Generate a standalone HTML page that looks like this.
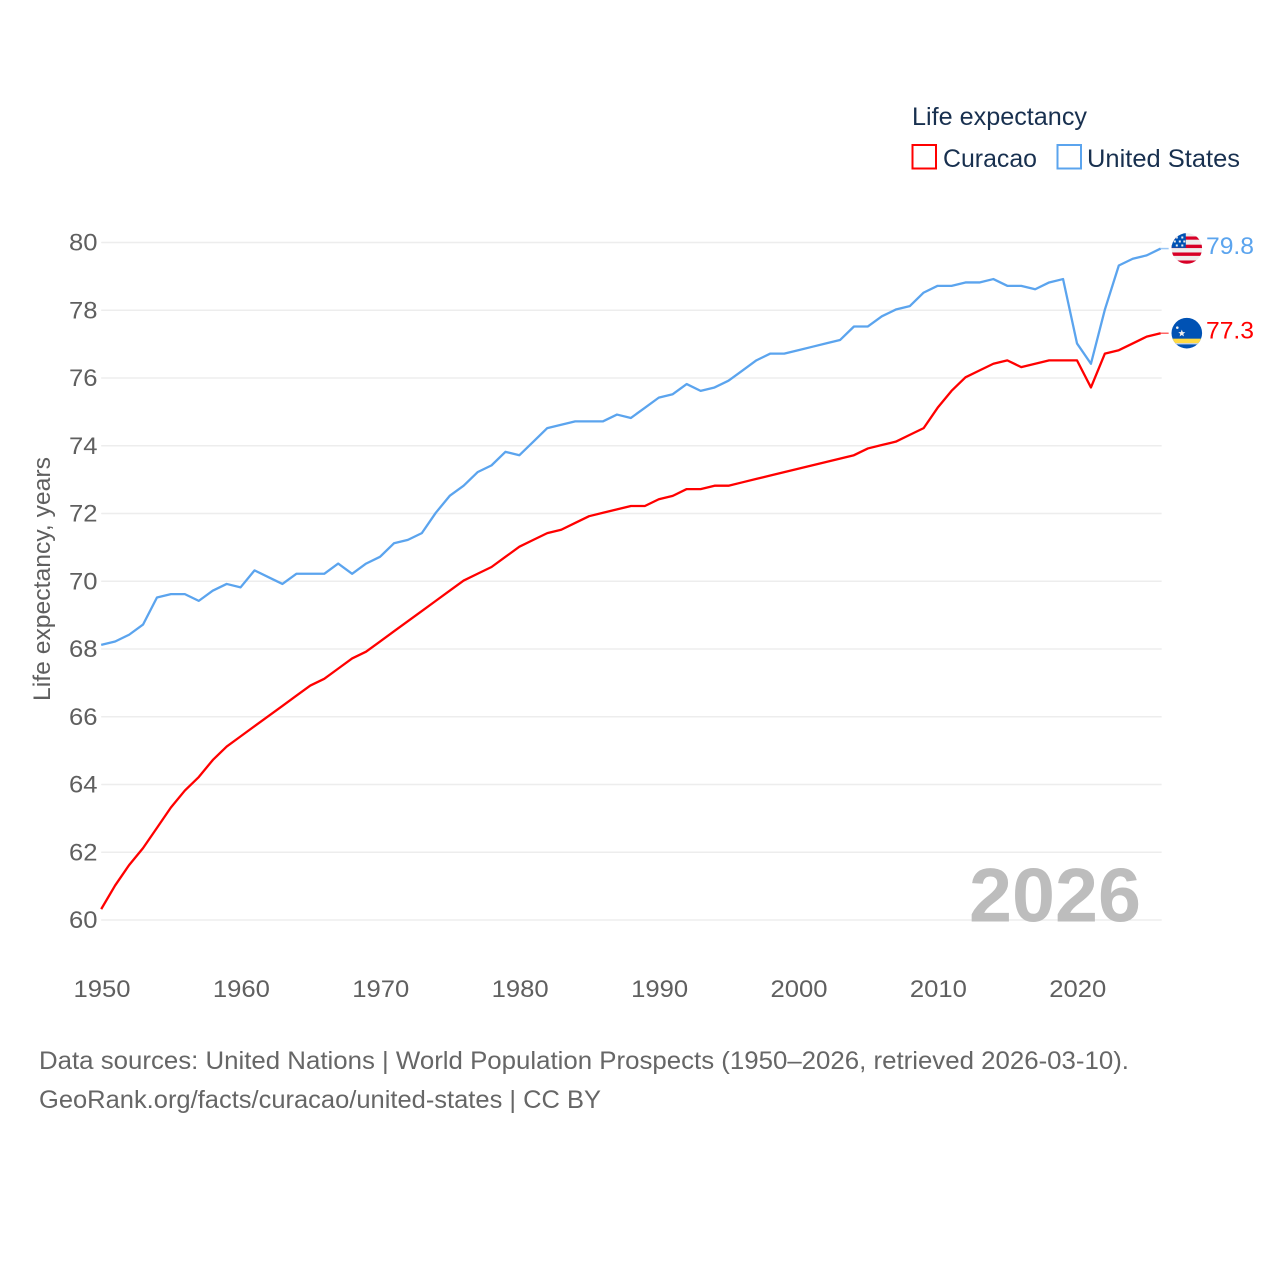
<!DOCTYPE html>
<html lang="en">
<head>
<meta charset="utf-8">
<title>Life expectancy: Curacao and United States</title>
<style>
html,body{margin:0;padding:0;background:#fff;width:1280px;height:1280px;overflow:hidden}
svg{display:block}
text{font-family:"Liberation Sans",sans-serif}
</style>
</head>
<body>
<svg id="chart" xmlns="http://www.w3.org/2000/svg" width="1280" height="1280" viewBox="0 0 1280 1280">
  <defs>
    <clipPath id="flag-us-clip"><circle cx="0" cy="0" r="15.3"/></clipPath>
    <clipPath id="flag-cw-clip"><circle cx="0" cy="0" r="15.3"/></clipPath>
  </defs>
  <g id="grid"></g>
  <g id="y-ticks"></g>
  <g id="x-ticks"></g>
  <text transform="translate(50,701) rotate(-90)" font-size="24" fill="#5f5f5f" textLength="244" lengthAdjust="spacingAndGlyphs">Life expectancy, years</text>
  <text x="969" y="921.5" font-size="76" font-weight="700" fill="#bdbdbd" textLength="172" lengthAdjust="spacingAndGlyphs">2026</text>
  <g id="series" transform="translate(0,-0.7)"></g>

  <g id="flag-us">
    <g clip-path="url(#flag-us-clip)">
      <rect x="-16" y="-16" width="32" height="32" fill="#eeeeee"/>
      <rect x="-16" y="-12" width="32" height="3.2" fill="#d80027"/>
      <rect x="-16" y="-3.8" width="32" height="3.4" fill="#d80027"/>
      <rect x="-16" y="4" width="32" height="3.4" fill="#d80027"/>
      <rect x="-16" y="12" width="32" height="4" fill="#d80027"/>
      <rect x="-16" y="-16" width="15" height="15.4" fill="#0052b4"/>
      <rect x="-11" y="-12" width="2" height="2" fill="#eeeeee"/>
      <rect x="-5.5" y="-12" width="2" height="2" fill="#eeeeee"/>
      <rect x="-13" y="-8" width="2" height="2" fill="#eeeeee"/>
      <rect x="-8" y="-8" width="2" height="2" fill="#eeeeee"/>
      <rect x="-3.5" y="-8" width="2" height="2" fill="#eeeeee"/>
      <rect x="-11" y="-4" width="2" height="2" fill="#eeeeee"/>
      <rect x="-5.5" y="-4" width="2" height="2" fill="#eeeeee"/>
    </g>
  </g>
  <g id="flag-cw">
    <g clip-path="url(#flag-cw-clip)">
      <rect x="-16" y="-16" width="32" height="32" fill="#0052b4"/>
      <rect x="-16" y="5.5" width="32" height="4.5" fill="#ffda44"/>
      <rect x="-16" y="10" width="32" height="1.2" fill="#dfe3ea"/>
      <polygon points="-5,-3.5 -4,-1 -1.5,-1 -3.5,0.7 -2.8,3.2 -5,1.8 -7.2,3.2 -6.5,0.7 -8.5,-1 -6,-1" fill="#eeeeee"/>
      <circle cx="-9.5" cy="-5.5" r="1.3" fill="#eeeeee"/>
    </g>
  </g>
  <g id="end-labels"></g>

  <g>
    <text x="912" y="125" font-size="25" fill="#18304f" textLength="175" lengthAdjust="spacingAndGlyphs">Life expectancy</text>
    <g>
      <rect x="912.5" y="145" width="23.5" height="23.5" fill="none" stroke="#ff0000" stroke-width="2"/>
      <text x="943" y="167" font-size="25" fill="#18304f" textLength="94" lengthAdjust="spacingAndGlyphs">Curacao</text>
    </g>
    <g>
      <rect x="1057.5" y="145" width="23.5" height="23.5" fill="none" stroke="#5ba4ee" stroke-width="2"/>
      <text x="1087" y="167" font-size="25" fill="#18304f" textLength="153" lengthAdjust="spacingAndGlyphs">United States</text>
    </g>
  </g>

  <text x="39" y="1069" font-size="25" fill="#666666" textLength="1090" lengthAdjust="spacingAndGlyphs">Data sources: United Nations | World Population Prospects (1950–2026, retrieved 2026-03-10).</text>
  <text x="39" y="1108" font-size="25" fill="#666666" textLength="562" lengthAdjust="spacingAndGlyphs">GeoRank.org/facts/curacao/united-states | CC BY</text>
</svg>
<script>
const years = [1950,1951,1952,1953,1954,1955,1956,1957,1958,1959,1960,1961,1962,1963,1964,1965,1966,1967,1968,1969,1970,1971,1972,1973,1974,1975,1976,1977,1978,1979,1980,1981,1982,1983,1984,1985,1986,1987,1988,1989,1990,1991,1992,1993,1994,1995,1996,1997,1998,1999,2000,2001,2002,2003,2004,2005,2006,2007,2008,2009,2010,2011,2012,2013,2014,2015,2016,2017,2018,2019,2020,2021,2022,2023,2024,2025,2026];
const curacao = [60.3,61.0,61.6,62.1,62.7,63.3,63.8,64.2,64.7,65.1,65.4,65.7,66.0,66.3,66.6,66.9,67.1,67.4,67.7,67.9,68.2,68.5,68.8,69.1,69.4,69.7,70.0,70.2,70.4,70.7,71.0,71.2,71.4,71.5,71.7,71.9,72.0,72.1,72.2,72.2,72.4,72.5,72.7,72.7,72.8,72.8,72.9,73.0,73.1,73.2,73.3,73.4,73.5,73.6,73.7,73.9,74.0,74.1,74.3,74.5,75.1,75.6,76.0,76.2,76.4,76.5,76.3,76.4,76.5,76.5,76.5,75.7,76.7,76.8,77.0,77.2,77.3];
const unitedStates = [68.1,68.2,68.4,68.7,69.5,69.6,69.6,69.4,69.7,69.9,69.8,70.3,70.1,69.9,70.2,70.2,70.2,70.5,70.2,70.5,70.7,71.1,71.2,71.4,72.0,72.5,72.8,73.2,73.4,73.8,73.7,74.1,74.5,74.6,74.7,74.7,74.7,74.9,74.8,75.1,75.4,75.5,75.8,75.6,75.7,75.9,76.2,76.5,76.7,76.7,76.8,76.9,77.0,77.1,77.5,77.5,77.8,78.0,78.1,78.5,78.7,78.7,78.8,78.8,78.9,78.7,78.7,78.6,78.8,78.9,77.0,76.4,78.0,79.3,79.5,79.6,79.8];
const yTickLabels = [60,62,64,66,68,70,72,74,76,78,80];
const xTickLabels = [1950,1960,1970,1980,1990,2000,2010,2020];

const NS = 'http://www.w3.org/2000/svg';
const xScale = year => 101.2 + (year - 1950) * 13.94;
const yScale = value => 920 - (value - 60) * 33.875;
const make = (tag, parent) => parent.appendChild(document.createElementNS(NS, tag));
const DIGIT_WIDTH = 14.25;

const gridGroup = document.getElementById('grid');
const yTickGroup = document.getElementById('y-ticks');
const xTickGroup = document.getElementById('x-ticks');
const seriesGroup = document.getElementById('series');
const endLabelGroup = document.getElementById('end-labels');

const xEnd = xScale(years[years.length - 1]);

yTickLabels.forEach(tick => {
  const line = make('line', gridGroup);
  
  
  line.setAttribute('x1', xScale(1950));
  line.setAttribute('x2', xEnd + 1);
  line.setAttribute('y1', yScale(tick));
  line.setAttribute('y2', yScale(tick));
  line.setAttribute('stroke', '#ededed');
  line.setAttribute('stroke-width', '1.5');

  const label = make('text', yTickGroup);
  
  
  label.setAttribute('x', 69);
  label.setAttribute('y', yScale(tick) + 8);
  label.setAttribute('font-size', '24');
  label.setAttribute('fill', '#5f5f5f');
  label.setAttribute('textLength', String(tick).length * DIGIT_WIDTH);
  label.setAttribute('lengthAdjust', 'spacingAndGlyphs');
  label.textContent = tick;
});

xTickLabels.forEach(tick => {
  const label = make('text', xTickGroup);
  
  
  label.setAttribute('x', xScale(tick) - 27.7);
  label.setAttribute('y', 997);
  label.setAttribute('font-size', '24');
  label.setAttribute('fill', '#5f5f5f');
  label.setAttribute('textLength', String(tick).length * DIGIT_WIDTH);
  label.setAttribute('lengthAdjust', 'spacingAndGlyphs');
  label.textContent = tick;
});

function drawSeries(values, color, key) {
  const d = values.map((v, i) => (i ? 'L' : 'M') + xScale(years[i]).toFixed(2) + ' ' + yScale(v).toFixed(2)).join(' ');
  const path = make('path', seriesGroup);
  
  
  path.setAttribute('d', d);
  path.setAttribute('fill', 'none');
  path.setAttribute('stroke', color);
  path.setAttribute('stroke-width', '2.3');
  path.setAttribute('stroke-linejoin', 'round');

  const last = values[values.length - 1];
  const connector = make('line', seriesGroup);
  
  
  connector.setAttribute('x1', xEnd);
  connector.setAttribute('x2', xEnd + 8);
  connector.setAttribute('y1', yScale(last));
  connector.setAttribute('y2', yScale(last));
  connector.setAttribute('stroke', color);
  connector.setAttribute('stroke-width', '1.5');
  connector.setAttribute('stroke-opacity', '0.6');

  const label = make('text', endLabelGroup);
  
  
  label.setAttribute('x', 1206);
  label.setAttribute('y', yScale(last) + 4.5);
  label.setAttribute('font-size', '24');
  label.setAttribute('fill', color);
  label.setAttribute('textLength', '48');
  label.setAttribute('lengthAdjust', 'spacingAndGlyphs');
  label.textContent = last.toFixed(1);

  return last;
}

const lastUS = drawSeries(unitedStates, '#5ba4ee', 'united-states');
const lastCW = drawSeries(curacao, '#ff0000', 'curacao');

function placeFlag(id, last) {
  const g = document.getElementById('flag-' + id);
  g.setAttribute('transform', 'translate(1186.8,' + (yScale(last) - 0.8) + ')');
}
placeFlag('us', lastUS);
placeFlag('cw', lastCW);
</script>
</body>
</html>
